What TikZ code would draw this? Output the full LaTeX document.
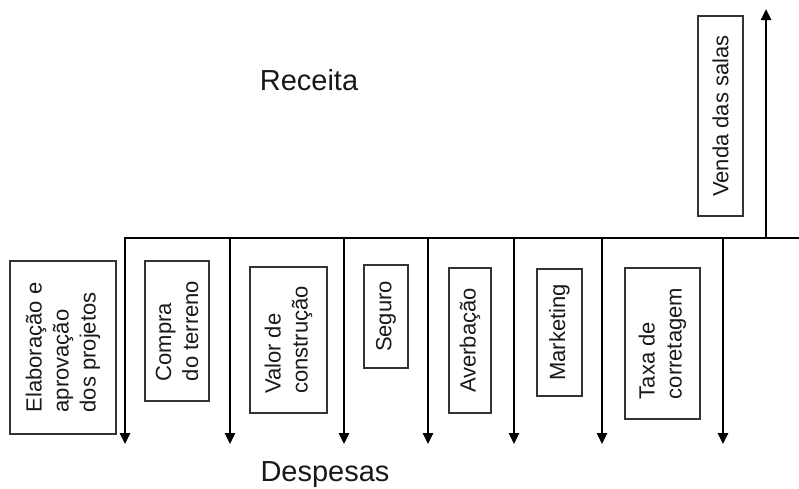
\documentclass[tikz,border=0pt]{standalone}
\usepackage{fontspec}
\setmainfont{Liberation Sans}
\usetikzlibrary{arrows.meta}
\begin{document}
\begin{tikzpicture}[x=1pt,y=-1pt,
  lbl/.style={draw=black!80, line width=1.1pt, rotate=90, align=left, inner sep=0pt,
    font=\fontsize{22}{27}\selectfont, text=black!90},
  flow/.style={line width=2.5pt, -{Triangle[width=10pt,length=11pt]}},
  big/.style={font=\fontsize{29}{34}\selectfont, inner sep=0pt, anchor=base, text=black!90}]
\useasboundingbox (0,0) rectangle (799,488);
% labels
\node[big] (rec) at (309,90) {Receita};
\node[big] (desp) at (325,481) {Despesas};
% boxes
\node[lbl, minimum width=173pt, minimum height=106pt] (b1) at (63,347.5) {Elaboração e\\aprovação\\dos projetos};
\node[lbl, minimum width=140pt, minimum height=64pt] (b2) at (177,331) {Compra\\do terreno};
\node[lbl, minimum width=146pt, minimum height=77pt] (b3) at (288.5,340) {Valor de\\construção};
\node[lbl, minimum width=103pt, minimum height=44pt] (b4) at (386,316.5) {Seguro};
\node[lbl, minimum width=145pt, minimum height=42pt] (b5) at (470,340.5) {Averbação};
\node[lbl, minimum width=127pt, minimum height=45pt] (b6) at (559.5,332.5) {Marketing};
\node[lbl, minimum width=151pt, minimum height=75pt] (b7) at (662.5,343.5) {Taxa de\\corretagem};
\node[lbl, minimum width=200pt, minimum height=45pt] (b8) at (720.5,116) {Venda das salas};
% timeline coordinates
\coordinate (hr) at (799,238);
\coordinate (hl) at (125,238);
\coordinate (e1) at (125,444);
\coordinate (t2) at (230,238); \coordinate (e2) at (230,444);
\coordinate (t3) at (344,238); \coordinate (e3) at (344,444);
\coordinate (t4) at (428,238); \coordinate (e4) at (428,444);
\coordinate (t5) at (514,238); \coordinate (e5) at (514,444);
\coordinate (t6) at (602,238); \coordinate (e6) at (602,444);
\coordinate (t7) at (723,238); \coordinate (e7) at (723,444);
\coordinate (u0) at (766,239);
\coordinate (u1) at (766,9);
\draw[flow] (hr) -- (hl) -- (e1);
\draw[flow] (t2) -- (e2);
\draw[flow] (t3) -- (e3);
\draw[flow] (t4) -- (e4);
\draw[flow] (t5) -- (e5);
\draw[flow] (t6) -- (e6);
\draw[flow] (t7) -- (e7);
\draw[flow] (u0) -- (u1);
\end{tikzpicture}
\end{document}
